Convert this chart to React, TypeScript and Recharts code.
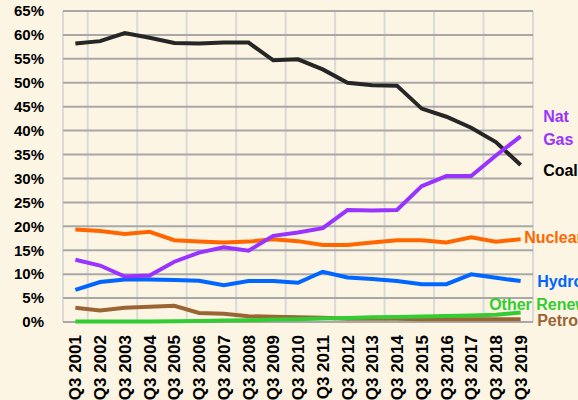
import { LineChart, Line, XAxis, YAxis, CartesianGrid, LabelList } from 'recharts';

const quarters = [
  'Q3 2001', 'Q3 2002', 'Q3 2003', 'Q3 2004', 'Q3 2005', 'Q3 2006', 'Q3 2007',
  'Q3 2008', 'Q3 2009', 'Q3 2010', 'Q3 2011', 'Q3 2012', 'Q3 2013', 'Q3 2014',
  'Q3 2015', 'Q3 2016', 'Q3 2017', 'Q3 2018', 'Q3 2019',
];

const coal = [58.2, 58.7, 60.4, 59.4, 58.3, 58.2, 58.4, 58.4, 54.7, 54.9, 52.8, 50.0, 49.5, 49.4, 44.6, 42.9, 40.6, 37.6, 32.8];
const natGas = [13.0, 11.8, 9.5, 9.7, 12.6, 14.5, 15.6, 14.9, 18.0, 18.7, 19.6, 23.4, 23.3, 23.4, 28.4, 30.5, 30.5, 34.8, 38.8];
const nuclear = [19.35, 19.0, 18.4, 18.85, 17.1, 16.85, 16.6, 16.8, 17.3, 16.9, 16.1, 16.1, 16.6, 17.1, 17.1, 16.6, 17.7, 16.8, 17.3];
const hydro = [6.7, 8.35, 8.9, 8.9, 8.8, 8.6, 7.7, 8.55, 8.55, 8.2, 10.5, 9.3, 9.0, 8.55, 7.9, 7.9, 9.95, 9.25, 8.55];
const otherRenew = [0.1, 0.1, 0.1, 0.1, 0.15, 0.2, 0.3, 0.35, 0.5, 0.6, 0.75, 0.85, 1.0, 1.05, 1.15, 1.25, 1.35, 1.5, 2.0];
const petro = [3.0, 2.4, 3.0, 3.2, 3.4, 1.9, 1.7, 1.2, 1.1, 1.0, 0.9, 0.7, 0.7, 0.7, 0.6, 0.6, 0.6, 0.6, 0.6];

const yTicks = [0, 5, 10, 15, 20, 25, 30, 35, 40, 45, 50, 55, 60, 65];

const data = quarters.map((q, i) => ({
  i,
  q,
  coal: coal[i],
  natGas: natGas[i],
  nuclear: nuclear[i],
  hydro: hydro[i],
  otherRenew: otherRenew[i],
  petro: petro[i],
}));

const centerTicks = quarters.map((_, i) => i);
const boundaryTicks = [...quarters.map((_, i) => i - 0.5), quarters.length - 0.5];

const FONT = '"Liberation Sans", Arial, sans-serif';
const last = quarters.length - 1;

function XTick({ x, y, payload }: any) {
  return (
    <g transform={`translate(${x},${y})`}>
      <text
        transform="rotate(-90)"
        textAnchor="end"
        dy="0.36em"
        fontFamily={FONT}
        fontWeight="bold"
        fontSize={17}
        fill="#000"
      >
        {quarters[payload.value]}
      </text>
    </g>
  );
}

// label beside the last point of a series
function endLabel(lines: string[], color: string, dx: number, dy: number) {
  return (props: any) => {
    if (props.index !== last) return null;
    return (
      <g>
        {lines.map((t, k) => (
          <text
            key={k}
            x={props.x + dx}
            y={props.y + dy + k * 23}
            dominantBaseline="central"
            fontFamily={FONT}
            fontWeight="bold"
            fontSize={16}
            fill={color}
          >
            {t}
          </text>
        ))}
      </g>
    );
  };
}

export default function App() {
  return (
    <div style={{ position: 'absolute', left: 0, top: 0, width: 578, height: 400, background: '#FCF5E3', overflow: 'hidden' }}>
      <LineChart width={578} height={400} data={data} margin={{ top: 11, right: 45, left: 0, bottom: 0 }}>
        <XAxis
          dataKey="i"
          type="number"
          domain={[-0.5, last + 0.5]}
          ticks={centerTicks}
          interval={0}
          axisLine={false}
          tickLine={false}
          tickMargin={7}
          height={78}
          tick={<XTick />}
        />
        <XAxis xAxisId="grid" dataKey="i" type="number" domain={[-0.5, last + 0.5]} ticks={boundaryTicks} hide />
        <YAxis
          domain={[0, 65]}
          ticks={yTicks}
          interval={0}
          width={63}
          axisLine={false}
          tickLine={false}
          tickMargin={13}
          tickFormatter={(v) => `${v}%`}
          tick={{ fill: '#000', fontFamily: FONT, fontWeight: 'bold', fontSize: 15 }}
        />
        <CartesianGrid xAxisId="grid" horizontal={false} stroke="#DADADA" strokeWidth={2} />
        <CartesianGrid vertical={false} stroke="#A8A8A8" strokeWidth={2} />
        <Line dataKey="petro" stroke="#9A6433" strokeWidth={4} dot={false} isAnimationActive={false}>
          <LabelList content={endLabel(['Petroleum'], '#9A6433', 16.5, 1)} />
        </Line>
        <Line dataKey="otherRenew" stroke="#33CC33" strokeWidth={4} dot={false} isAnimationActive={false}>
          <LabelList content={endLabel(['Other Renewables'], '#33CC33', -31.5, -7.5)} />
        </Line>
        <Line dataKey="hydro" stroke="#0066FF" strokeWidth={4} dot={false} isAnimationActive={false}>
          <LabelList content={endLabel(['Hydro'], '#0066FF', 16.5, 0)} />
        </Line>
        <Line dataKey="nuclear" stroke="#FF6600" strokeWidth={4} dot={false} isAnimationActive={false}>
          <LabelList content={endLabel(['Nuclear'], '#FF6600', 3.5, -1.5)} />
        </Line>
        <Line dataKey="coal" stroke="#262626" strokeWidth={4} dot={false} isAnimationActive={false}>
          <LabelList content={endLabel(['Coal'], '#000', 22.5, 5)} />
        </Line>
        <Line dataKey="natGas" stroke="#9933FF" strokeWidth={4} dot={false} isAnimationActive={false}>
          <LabelList content={endLabel(['Nat', 'Gas'], '#9933FF', 22.5, -20)} />
        </Line>
      </LineChart>
    </div>
  );
}
